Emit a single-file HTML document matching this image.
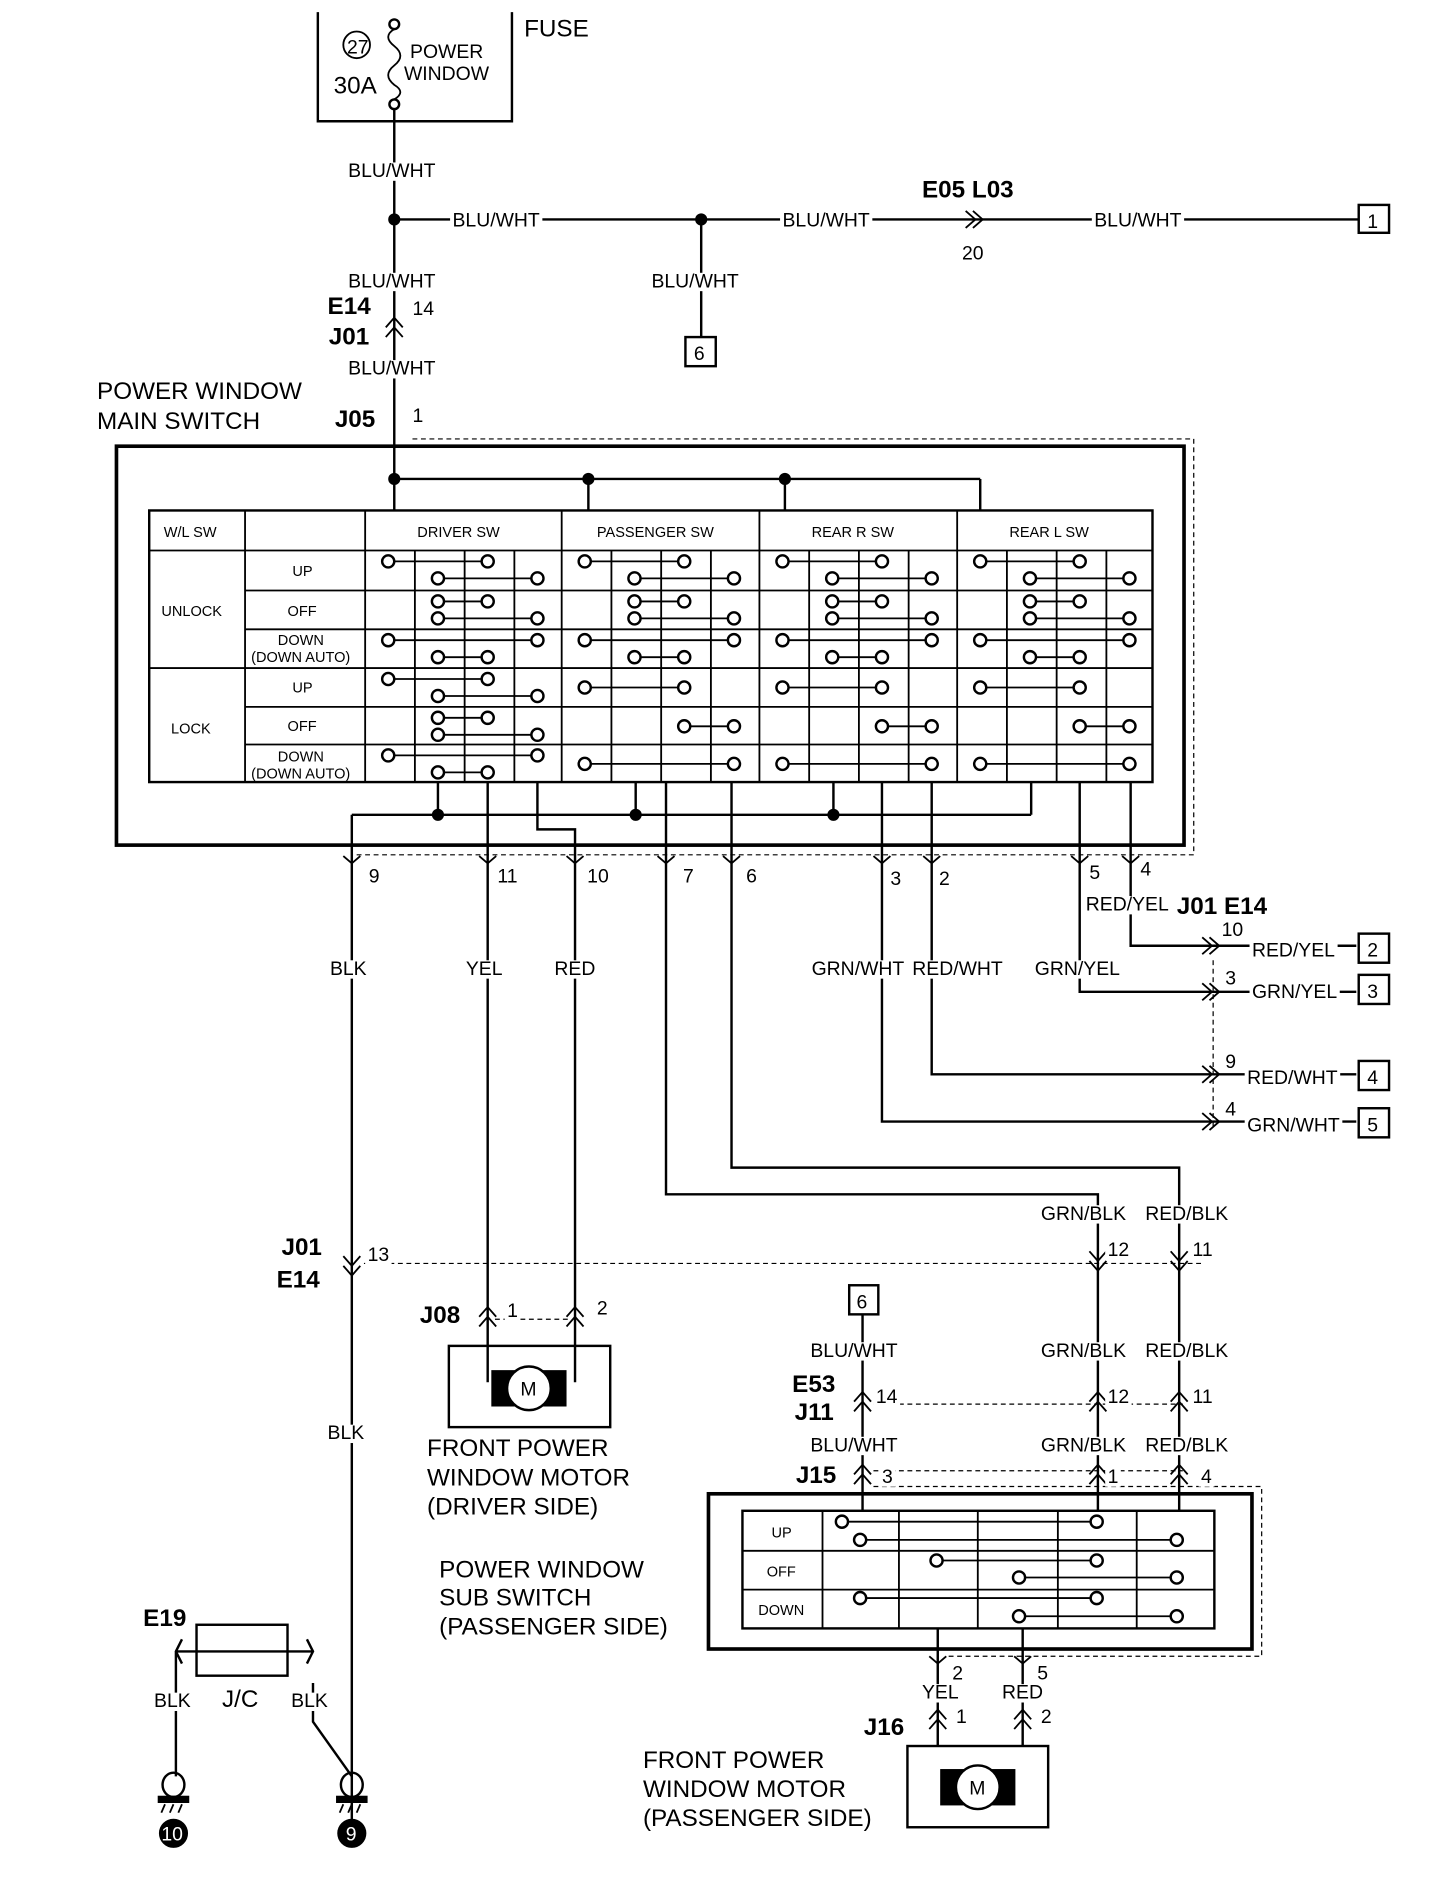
<!DOCTYPE html>
<html><head><meta charset="utf-8"><style>
html,body{margin:0;padding:0;background:#fff;}
svg{display:block}
text{font-family:"Liberation Sans",Arial,sans-serif;fill:#000}
.s{font-size:16px}.m{font-size:20px}.b{font-size:20px;font-weight:bold}.t{font-size:12px}
</style></head><body>
<svg id="d" width="1440" height="1900" viewBox="0 0 1187 1567" preserveAspectRatio="none" xmlns="http://www.w3.org/2000/svg">
<g id="g" fill="none" stroke="#000" stroke-width="2">
<path d="M262 10V100H422V10"/>
<circle cx="325" cy="20" r="4"/><circle cx="325" cy="86" r="4"/>
<path d="M325 24 Q315 30 325 38 Q335 46 325 54 Q315 62 325 70 Q335 76 325 82" stroke-width="1.5"/>
<circle cx="294" cy="37" r="11" stroke-width="1.5"/>
<path d="M325 90V395"/>
<path d="M325 181H1120"/>
<circle cx="325" cy="181" r="4" fill="#000"/><circle cx="578" cy="181" r="4" fill="#000"/>
<path d="M796 174L804 181L796 188M802 174L810 181L802 188" stroke-width="1.5"/>
<rect x="1120" y="169" width="25" height="23"/>
<path d="M578 181V278"/><rect x="565" y="278" width="25" height="24"/>
<path d="M318 270L325 262L332 270M318 278L325 270L332 278" stroke-width="1.5"/>
<rect x="96" y="368" width="880" height="329" stroke-width="3"/>
<path d="M340 362H984V705H290" stroke-dasharray="4 3" stroke-width="1"/>
<path d="M325 395H808M485 395V421M647 395V421M808 395V421M325 395V421"/>
<circle cx="325" cy="395" r="4" fill="#000"/><circle cx="485" cy="395" r="4" fill="#000"/><circle cx="647" cy="395" r="4" fill="#000"/>
<rect x="123" y="421" width="827" height="224"/>
<path d="M202 421V645M301 421V645M463 421V645M626 421V645M789 421V645M123 454H950M123 551H950M202 487H950M202 519H950M202 583H950M202 614H950" stroke-width="1.5"/>
<g id="tbl"></g>
<path d="M290 672H850M290 672V1512M361 645V672M524 645V672M687 645V672M850 645V672"/>
<circle cx="361" cy="672" r="4" fill="#000"/><circle cx="524" cy="672" r="4" fill="#000"/><circle cx="687" cy="672" r="4" fill="#000"/>
<path d="M402 645V1140M443 645V684H474V1140M549 645V985H905V1232M603 645V963H972V1232M727 645V925H1118M768 645V886H1118M890 645V818H1118M932 645V780H1118"/>
<g id="pins"></g>
<rect x="1120" y="770" width="25" height="24"/><rect x="1120" y="804" width="25" height="24"/>
<rect x="1120" y="875" width="25" height="24"/><rect x="1120" y="914" width="25" height="24"/>
<path d="M1000 792V930" stroke-dasharray="4 3" stroke-width="1"/>
<path d="M300 1042H990" stroke-dasharray="4 3" stroke-width="1"/>
<path d="M408 1088H468M720 1158H975M720 1213H975" stroke-dasharray="4 3" stroke-width="1"/>
<rect x="370" y="1110" width="133" height="67"/>
<rect x="406" y="1131" width="60" height="28" fill="#000"/>
<circle cx="436" cy="1145" r="18" fill="#fff"/>
<rect x="700" y="1060" width="24" height="24"/><path d="M711 1084V1232"/>
<rect x="584" y="1232" width="448" height="128" stroke-width="3"/>
<path d="M720 1226H1040V1366H780" stroke-dasharray="4 3" stroke-width="1"/>
<rect x="612" y="1246" width="389" height="97"/>
<path d="M678 1246V1343M741 1246V1343M806 1246V1343M872 1246V1343M937 1246V1343M612 1279H1001M612 1311H1001" stroke-width="1.5"/>
<path d="M773 1343V1440M843 1343V1440"/>
<rect x="748" y="1440" width="116" height="67"/>
<rect x="776" y="1460" width="60" height="28" fill="#000"/>
<circle cx="806" cy="1474" r="18" fill="#fff"/>
<rect x="162" y="1340" width="75" height="42"/>
<path d="M145 1362H258M150 1352L145 1362L150 1372M253 1352L258 1362L253 1372M145 1362V1465M258 1388V1420L290 1465"/>
<ellipse cx="143" cy="1472" rx="9" ry="10"/><ellipse cx="290" cy="1472" rx="9" ry="10"/>
<rect x="131" y="1482" width="24" height="4" fill="#000"/><rect x="278" y="1482" width="24" height="4" fill="#000"/>
<path d="M136 1488L133 1495M143 1488L140 1495M150 1488L147 1495M283 1488L280 1495M290 1488L287 1495M297 1488L294 1495" stroke-width="1.5"/>
<circle cx="143" cy="1512" r="11" fill="#000"/><circle cx="290" cy="1512" r="11" fill="#000"/>
</g>
<g id="bg" fill="#fff"></g>
<g id="tx">
<text x="432" y="30" class="m">FUSE</text>
<text x="286" y="44" class="s n">27</text>
<text x="275" y="77" class="m">30A</text>
<text x="338" y="48" class="s">POWER</text><text x="333" y="66" class="s">WINDOW</text>
<text x="287" y="146" class="s">BLU/WHT</text>
<text x="373" y="187" class="s">BLU/WHT</text>
<text x="645" y="187" class="s">BLU/WHT</text>
<text x="902" y="187" class="s">BLU/WHT</text>
<text x="760" y="163" class="b">E05 L03</text><text x="793" y="214" class="s">20</text>
<text x="1127" y="188" class="s n">1</text><text x="572" y="297" class="s n">6</text>
<text x="537" y="237" class="s">BLU/WHT</text>
<text x="287" y="237" class="s">BLU/WHT</text>
<text x="270" y="259" class="b">E14</text><text x="340" y="260" class="s">14</text>
<text x="271" y="284" class="b">J01</text>
<text x="287" y="309" class="s">BLU/WHT</text>
<text x="80" y="329" class="m">POWER WINDOW</text><text x="80" y="354" class="m">MAIN SWITCH</text>
<text x="276" y="352" class="b">J05</text><text x="340" y="348" class="s">1</text>
<text x="135" y="443" class="t n">W/L SW</text>
<text x="344" y="443" class="t n">DRIVER SW</text><text x="492" y="443" class="t n">PASSENGER SW</text>
<text x="669" y="443" class="t n">REAR R SW</text><text x="832" y="443" class="t n">REAR L SW</text>
<text x="133" y="508" class="t n">UNLOCK</text><text x="141" y="605" class="t n">LOCK</text>
<text x="241" y="475" class="t n">UP</text><text x="237" y="508" class="t n">OFF</text>
<text x="229" y="532" class="t n">DOWN</text><text x="207" y="546" class="t n">(DOWN AUTO)</text>
<text x="241" y="571" class="t n">UP</text><text x="237" y="603" class="t n">OFF</text>
<text x="229" y="628" class="t n">DOWN</text><text x="207" y="642" class="t n">(DOWN AUTO)</text>
<text x="304" y="728" class="s">9</text><text x="410" y="728" class="s">11</text><text x="484" y="728" class="s">10</text>
<text x="563" y="728" class="s">7</text><text x="615" y="728" class="s">6</text><text x="734" y="730" class="s">3</text>
<text x="774" y="730" class="s">2</text><text x="898" y="725" class="s">5</text><text x="940" y="722" class="s">4</text>
<text x="272" y="804" class="s">BLK</text><text x="384" y="804" class="s">YEL</text><text x="457" y="804" class="s">RED</text>
<text x="669" y="804" class="s">GRN/WHT</text><text x="752" y="804" class="s">RED/WHT</text><text x="853" y="804" class="s">GRN/YEL</text>
<text x="895" y="751" class="s">RED/YEL</text><text x="970" y="754" class="b">J01 E14</text>
<text x="1007" y="772" class="s">10</text><text x="1010" y="812" class="s">3</text><text x="1010" y="881" class="s">9</text><text x="1010" y="920" class="s">4</text>
<text x="1032" y="789" class="s">RED/YEL</text>
<text x="1032" y="823" class="s">GRN/YEL</text>
<text x="1028" y="894" class="s">RED/WHT</text>
<text x="1028" y="933" class="s">GRN/WHT</text>
<text x="1127" y="789" class="s n">2</text><text x="1127" y="823" class="s n">3</text><text x="1127" y="894" class="s n">4</text><text x="1127" y="933" class="s n">5</text>
<text x="858" y="1006" class="s">GRN/BLK</text><text x="944" y="1006" class="s">RED/BLK</text>
<text x="913" y="1036" class="s">12</text><text x="983" y="1036" class="s">11</text>
<text x="232" y="1035" class="b">J01</text><text x="228" y="1062" class="b">E14</text><text x="303" y="1040" class="s">13</text>
<text x="346" y="1091" class="b">J08</text><text x="418" y="1086" class="s">1</text><text x="492" y="1084" class="s">2</text>
<text x="429" y="1151" class="s n">M</text>
<text x="352" y="1201" class="m">FRONT POWER</text><text x="352" y="1225" class="m">WINDOW MOTOR</text><text x="352" y="1249" class="m">(DRIVER SIDE)</text>
<text x="270" y="1187" class="s">BLK</text>
<text x="706" y="1079" class="s n">6</text>
<text x="668" y="1119" class="s">BLU/WHT</text><text x="858" y="1119" class="s">GRN/BLK</text><text x="944" y="1119" class="s">RED/BLK</text>
<text x="653" y="1148" class="b">E53</text><text x="655" y="1171" class="b">J11</text>
<text x="722" y="1157" class="s">14</text><text x="913" y="1157" class="s">12</text><text x="983" y="1157" class="s">11</text>
<text x="668" y="1197" class="s">BLU/WHT</text><text x="858" y="1197" class="s">GRN/BLK</text><text x="944" y="1197" class="s">RED/BLK</text>
<text x="656" y="1223" class="b">J15</text><text x="727" y="1223" class="s">3</text><text x="913" y="1223" class="s">1</text><text x="990" y="1223" class="s">4</text>
<text x="636" y="1268" class="t n">UP</text><text x="632" y="1300" class="t n">OFF</text><text x="625" y="1332" class="t n">DOWN</text>
<text x="362" y="1301" class="m">POWER WINDOW</text><text x="362" y="1324" class="m">SUB SWITCH</text><text x="362" y="1348" class="m">(PASSENGER SIDE)</text>
<text x="785" y="1385" class="s">2</text><text x="855" y="1385" class="s">5</text>
<text x="760" y="1401" class="s">YEL</text><text x="826" y="1401" class="s">RED</text>
<text x="712" y="1431" class="b">J16</text><text x="788" y="1421" class="s">1</text><text x="858" y="1421" class="s">2</text>
<text x="799" y="1480" class="s n">M</text>
<text x="530" y="1458" class="m">FRONT POWER</text><text x="530" y="1482" class="m">WINDOW MOTOR</text><text x="530" y="1506" class="m">(PASSENGER SIDE)</text>
<text x="118" y="1341" class="b">E19</text>
<text x="127" y="1408" class="s">BLK</text><text x="183" y="1408" class="m">J/C</text><text x="240" y="1408" class="s">BLK</text>
<text x="133" y="1518" class="s n" style="fill:#fff">10</text><text x="285" y="1518" class="s n" style="fill:#fff">9</text>
</g>
</svg>
<script>
var NS="http://www.w3.org/2000/svg";
function el(p,t,a){var e=document.createElementNS(NS,t);for(var k in a)e.setAttribute(k,a[k]);p.appendChild(e);return e;}
var tb=document.getElementById("tbl");
var rows=[454,487,519,551,583,614];
var drv=[[[1,3],[2,4]],[[2,3],[2,4]],[[1,4],[2,3]],[[1,3],[2,4]],[[2,3],[2,4]],[[1,4],[2,3]]];
var oth=[[[1,3],[2,4]],[[2,3],[2,4]],[[1,4],[2,3]],[[1,3]],[[3,4]],[[1,4]]];
[301,463,626,789].forEach(function(g,gi){
  var gs=gi==0?drv:oth;
  [41,82,123].forEach(function(o){el(tb,"line",{x1:g+o,y1:454,x2:g+o,y2:645,"stroke-width":1.5});});
  rows.forEach(function(r,ri){
    var c=gs[ri];
    c.forEach(function(p,pi){
      var y=c.length==1?r+16:r+9+pi*14;
      var x1=g+19+(p[0]-1)*41,x2=g+19+(p[1]-1)*41;
      el(tb,"line",{x1:x1,y1:y,x2:x2,y2:y,"stroke-width":1.5});
      el(tb,"circle",{cx:x1,cy:y,r:5,fill:"#fff"});el(tb,"circle",{cx:x2,cy:y,r:5,fill:"#fff"});
    });
  });
});
var pins=document.getElementById("pins");
function chevDown(x,y){el(pins,"path",{d:"M"+(x-7)+" "+(y-6)+"L"+x+" "+y+"L"+(x+7)+" "+(y-6),"stroke-width":1.5});}
function chevUp(x,y){el(pins,"path",{d:"M"+(x-7)+" "+(y+4)+"L"+x+" "+(y-4)+"L"+(x+7)+" "+(y+4)+"M"+(x-7)+" "+(y+12)+"L"+x+" "+(y+4)+"L"+(x+7)+" "+(y+12),"stroke-width":1.5});}
function chevDown2(x,y){el(pins,"path",{d:"M"+(x-7)+" "+(y-4)+"L"+x+" "+(y+4)+"L"+(x+7)+" "+(y-4)+"M"+(x-7)+" "+(y+4)+"L"+x+" "+(y+12)+"L"+(x+7)+" "+(y+4),"stroke-width":1.5});}
function chevR(x,y){el(pins,"path",{d:"M"+(x-4)+" "+(y-7)+"L"+(x+4)+" "+y+"L"+(x-4)+" "+(y+7)+"M"+(x+2)+" "+(y-7)+"L"+(x+10)+" "+y+"L"+(x+2)+" "+(y+7),"stroke-width":1.5});}
[290,402,474,549,603,727,768,890,932].forEach(function(x){chevDown(x,712);});
[780,818,886,925].forEach(function(y){chevR(995,y);});
chevDown2(290,1040);chevDown2(905,1036);chevDown2(972,1036);
chevUp(402,1082);chevUp(474,1082);
chevUp(711,1152);chevUp(905,1152);chevUp(972,1152);
chevUp(711,1212);chevUp(905,1212);chevUp(972,1212);
chevDown(773,1372);chevDown(843,1372);
chevUp(773,1414);chevUp(843,1414);
var sr=[[[694,904,1255],[709,970,1270]],[[772,904,1287],[840,970,1301]],[[709,904,1318],[840,970,1333]]];
sr.forEach(function(r){r.forEach(function(c){
  el(tb,"line",{x1:c[0],y1:c[2],x2:c[1],y2:c[2],"stroke-width":1.5});
  el(tb,"circle",{cx:c[0],cy:c[2],r:5,fill:"#fff"});el(tb,"circle",{cx:c[1],cy:c[2],r:5,fill:"#fff"});
});});
["M711 1232V1246","M905 1232V1246","M972 1232V1246"].forEach(function(d){el(tb,"path",{d:d});});
var bg=document.getElementById("bg");
document.querySelectorAll("#tx text").forEach(function(t){
  if(t.classList.contains("n"))return;
  var b=t.getBBox();
  el(bg,"rect",{x:b.x-2,y:b.y+2,width:b.width+4,height:b.height-3});
});
</script>
</body></html>
